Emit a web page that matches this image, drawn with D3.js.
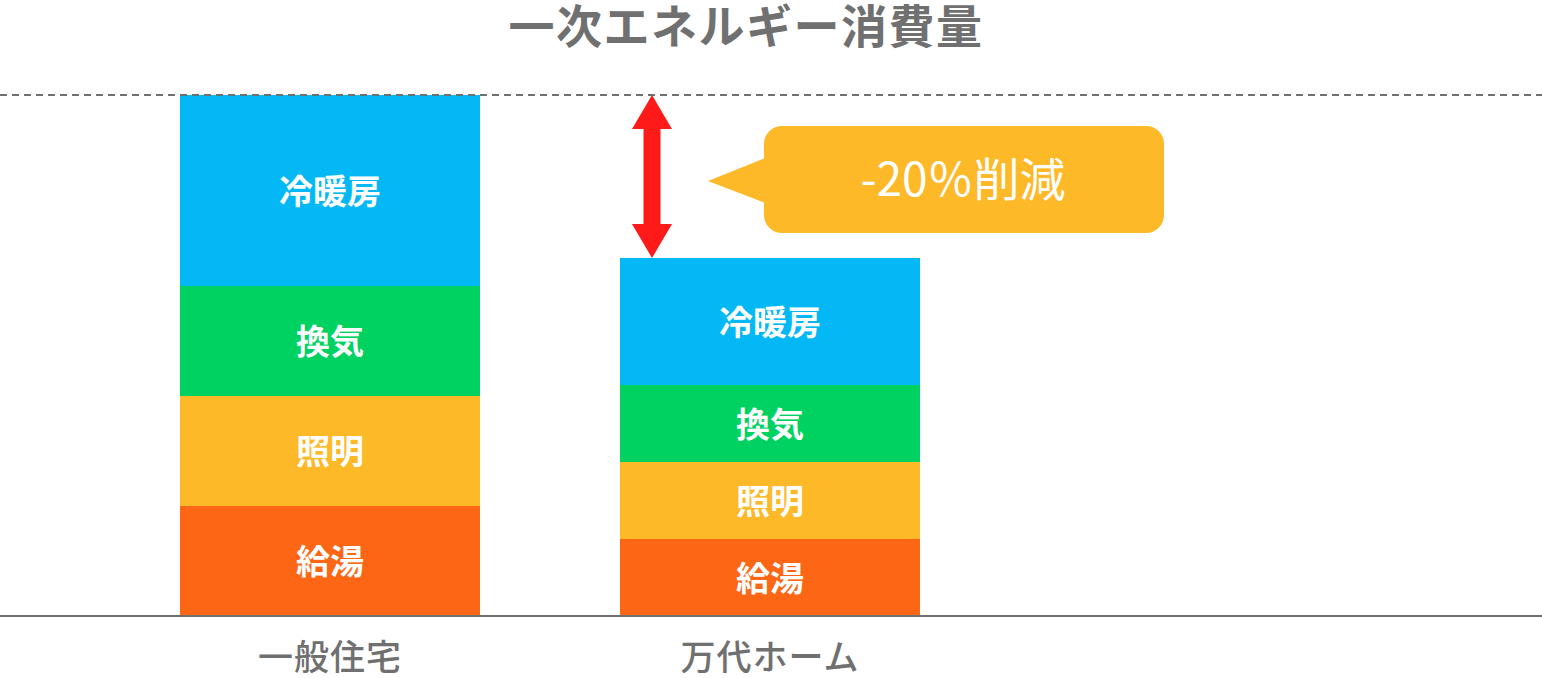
<!DOCTYPE html>
<html lang="ja">
<head>
<meta charset="utf-8">
<script src="https://cdn.jsdelivr.net/npm/d3@7"></script>
<style>
  html, body { margin: 0; padding: 0; background: #fff; }
  svg { display: block; font-family: "Noto Sans CJK JP", "Noto Sans", sans-serif; }
</style>
</head>
<body>
<div id="chart"></div>
<script>
// 棒グラフの値（相対値）
const houses = ["一般住宅", "万代ホーム"];
const uses = ["給湯", "照明", "換気", "冷暖房"];
const useColors = ["#FC6614", "#FDB927", "#00D262", "#03B8F5"];
const ippanValues = [110, 110, 110, 191];
const bandaiValues = [77, 77, 77, 127];
const title = "一次エネルギー消費量";
const calloutText = "-20％削減";

const width = 1542;
const height = 678;
const marginTop = 95;
const marginBottom = 62;

const rows = houses.map((h, i) => {
  const vals = i === 0 ? ippanValues : bandaiValues;
  const row = { house: h };
  uses.forEach((u, j) => row[u] = vals[j]);
  return row;
});

const series = d3.stack().keys(uses)(rows);
const totals = rows.map(r => d3.sum(uses, u => r[u]));

const x = d3.scaleBand()
  .domain(houses)
  .range([180, 920])
  .paddingInner(140 / 440)
  .paddingOuter(0);

const y = d3.scaleLinear()
  .domain([0, d3.max(totals)])
  .range([height - marginBottom, marginTop]);

const color = d3.scaleOrdinal().domain(uses).range(useColors);

const svg = d3.create("svg")
  .attr("width", width)
  .attr("height", height)
  .attr("viewBox", [0, 0, width, height]);

// タイトル
svg.append("text")
  .attr("x", 746)
  .attr("y", 43)
  .attr("text-anchor", "middle")
  .attr("fill", "#707070")
  .attr("font-size", 46)
  .attr("font-weight", 700)
  .attr("letter-spacing", 1.5)
  .text(title);

// 積み上げ棒
const layer = svg.append("g")
  .selectAll("g")
  .data(series)
  .join("g")
  .attr("fill", d => color(d.key));

layer.selectAll("rect")
  .data(d => d.map(p => Object.assign(p, { key: d.key })))
  .join("rect")
  .attr("x", d => x(d.data.house))
  .attr("y", d => y(d[1]))
  .attr("width", x.bandwidth())
  .attr("height", d => y(d[0]) - y(d[1]));

// 区分ラベル
svg.append("g")
  .selectAll("text")
  .data(series.flatMap(s => s))
  .join("text")
  .attr("x", d => x(d.data.house) + x.bandwidth() / 2)
  .attr("y", d => (y(d[0]) + y(d[1])) / 2 + 13)
  .attr("text-anchor", "middle")
  .attr("fill", "#fff")
  .attr("font-size", 34)
  .attr("font-weight", 600)
  .text(d => d.key);

// 基準線（一般住宅の合計）
svg.append("line")
  .attr("x1", 0)
  .attr("x2", width)
  .attr("y1", y(totals[0]))
  .attr("y2", y(totals[0]))
  .attr("stroke", "#707070")
  .attr("stroke-width", 2)
  .attr("stroke-dasharray", "7,5");

// x軸
const xAxis = svg.append("g")
  .attr("transform", `translate(0,${y(0)})`);
xAxis.append("line")
  .attr("x1", 0)
  .attr("x2", width)
  .attr("stroke", "#707070")
  .attr("stroke-width", 2);
xAxis.selectAll("text")
  .data(houses)
  .join("text")
  .attr("x", d => x(d) + x.bandwidth() / 2)
  .attr("y", 54)
  .attr("text-anchor", "middle")
  .attr("fill", "#707070")
  .attr("font-size", 35)
  .attr("font-weight", 500)
  .attr("letter-spacing", 1)
  .text(d => d);

// 両矢印
const ax = x(houses[1]) + 32;
const yTop = y(totals[0]);
const yBot = y(totals[1]);
const headW = 20, headH = 34, shaft = 8.5;
svg.append("path")
  .attr("fill", "#FF1A1A")
  .attr("d", `
    M${ax},${yTop}
    L${ax + headW},${yTop + headH}
    H${ax + shaft}
    V${yBot - headH}
    H${ax + headW}
    L${ax},${yBot}
    L${ax - headW},${yBot - headH}
    H${ax - shaft}
    V${yTop + headH}
    H${ax - headW}
    Z`);

// 吹き出し
const bx = 764, by = 126, bw = 400, bh = 107, br = 18;
const callout = svg.append("g");
callout.append("rect")
  .attr("x", bx)
  .attr("y", by)
  .attr("width", bw)
  .attr("height", bh)
  .attr("rx", br)
  .attr("fill", "#FDB927");
callout.append("path")
  .attr("fill", "#FDB927")
  .attr("d", `M${bx + 1},158 L708,181 L${bx + 1},203 Z`);
callout.append("text")
  .attr("x", bx + bw / 2 - 1)
  .attr("y", 196)
  .attr("text-anchor", "middle")
  .attr("fill", "#fff")
  .attr("font-size", 46)
  .attr("font-weight", 400)
  .text(calloutText);

document.getElementById("chart").appendChild(svg.node());
</script>
</body>
</html>
